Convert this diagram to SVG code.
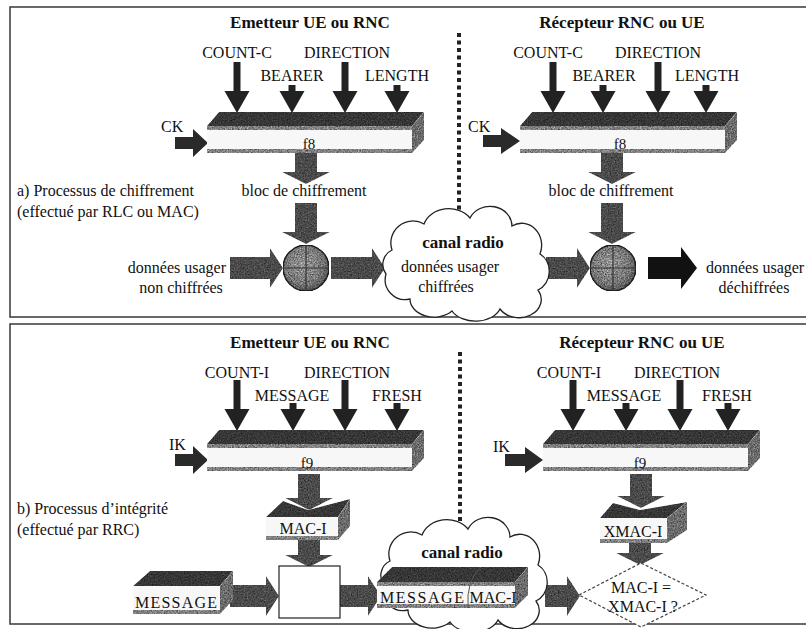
<svg xmlns="http://www.w3.org/2000/svg" width="806" height="629" viewBox="0 0 806 629" font-family="'Liberation Serif', 'DejaVu Serif', 'Times New Roman', Times, serif">
  <style>
    text { font-family: "Liberation Serif", "DejaVu Serif", "Times New Roman", Times, serif; }
    .t { font-size: 16px; fill: #111; }
    .b { font-weight: bold; font-size: 17px; }
    .m { text-anchor: middle; }
    .sm { font-size: 15px; }
    .panel { fill: none; stroke: #444; stroke-width: 1.6; }
    .div { stroke: #222; stroke-width: 4; stroke-dasharray: 4 3.5; }
    .dark { fill: #4e4e4e; filter: url(#grain); }
    .side { fill: #999; filter: url(#grain); }
    .front { fill: #f7f7f7; }
    .band { fill: #b8b8b8; filter: url(#grain); }
    .fat { fill: #6a6a6a; filter: url(#grain); }
    .thin { fill: #222; }
    .key { fill: #2a2a2a; }
    .blk { fill: #111; }
    .cloud { fill: #fff; stroke: #222; stroke-width: 1.3; }
    .globe { fill: url(#sphere); stroke: #2a2a2a; stroke-width: 1.6; filter: url(#grain); }
    .cross { stroke: #333; stroke-width: 1.2; }
  </style>
  <defs>
    <!-- scanned-paper grain for the shaded faces -->
    <filter id="grain" x="0" y="0" width="1" height="1" color-interpolation-filters="sRGB">
      <feTurbulence type="fractalNoise" baseFrequency="0.7" numOctaves="2" seed="7" result="n"/>
      <feColorMatrix in="n" type="matrix" values="0.6 0.6 0.6 0 -0.2  0.6 0.6 0.6 0 -0.2  0.6 0.6 0.6 0 -0.2  0 0 0 0 1" result="m"/>
      <feBlend in="SourceGraphic" in2="m" mode="multiply" result="mix"/>
      <feComposite in="mix" in2="SourceGraphic" operator="in"/>
    </filter>
    <radialGradient id="sphere" cx="0.45" cy="0.42" r="0.6">
      <stop offset="0" stop-color="#d6d6d6"/>
      <stop offset="0.7" stop-color="#a8a8a8"/>
      <stop offset="1" stop-color="#6e6e6e"/>
    </radialGradient>
    <!-- thin input arrows, tip at the origin -->
    <path id="aL" class="thin" d="M-3.5,-51 h7 v29 h9 L0,0 L-12.5,-22 h9 Z"/>
    <path id="aS" class="thin" d="M-3.5,-28 h7 v6 h9 L0,0 L-12.5,-22 h9 Z"/>
    <!-- 3D algorithm block (f8 / f9) -->
    <g id="bar">
      <polygon class="dark" points="0,14 12,0 217,0 205,14"/>
      <rect class="front" x="0" y="14" width="205" height="27"/>
      <rect class="band" x="0" y="14" width="205" height="4"/>
      <rect class="band" x="0" y="37" width="205" height="4"/>
      <polygon class="side" points="205,14 217,0 217,28 205,41"/>
    </g>
    <path id="cloud" class="cloud" d="M392,250 A22,22 0 0 1 424,224 A26,22 0 0 1 470,218 A22,20 0 0 1 512,226 A20,22 0 0 1 540,254 A18,20 0 0 1 538,290 A22,18 0 0 1 500,309 A26,18 0 0 1 452,311 A24,18 0 0 1 410,299 A20,20 0 0 1 386,274 A16,16 0 0 1 392,250 Z"/>
  </defs>

  <rect width="806" height="629" fill="#fff"/>

  <!-- ===== a) ciphering ===== -->
  <g id="panel-a">
    <rect class="panel" x="10" y="7" width="820" height="310"/>
    <line class="div" x1="459" y1="33" x2="459" y2="218"/>
  </g>
  <g id="caption-a">
    <text class="t" x="17" y="196">a) Processus de chiffrement</text>
    <text class="t" x="17" y="217">(effectué par RLC ou MAC)</text>
  </g>

  <!-- ===== b) integrity ===== -->
  <g id="panel-b">
    <rect class="panel" x="10" y="324" width="820" height="300"/>
    <line class="div" x1="460" y1="352" x2="460" y2="532"/>
  </g>
  <g id="caption-b">
    <text class="t" x="17" y="514">b) Processus d’intégrité</text>
    <text class="t" x="17" y="535">(effectué par RRC)</text>
  </g>

  <!-- ===== connectors ===== -->
  <g id="connectors">
    <!-- input parameters into f8 -->
    <use href="#aL" x="237" y="113"/>
    <use href="#aS" x="292" y="113"/>
    <use href="#aL" x="345" y="113"/>
    <use href="#aS" x="397" y="113"/>
    <use href="#aL" x="553" y="113"/>
    <use href="#aS" x="603" y="113"/>
    <use href="#aL" x="658" y="113"/>
    <use href="#aS" x="706" y="113"/>
    <!-- input parameters into f9 -->
    <use href="#aL" x="237" y="431"/>
    <use href="#aS" x="293" y="431"/>
    <use href="#aL" x="345" y="431"/>
    <use href="#aS" x="397" y="431"/>
    <use href="#aL" x="573" y="431"/>
    <use href="#aS" x="626" y="431"/>
    <use href="#aL" x="680" y="431"/>
    <use href="#aS" x="728" y="431"/>
    <!-- keys -->
    <path class="key" d="M175,137 H193 V129 L208,143 L193,157 V149 H175 Z"/>
    <path class="key" d="M483,135 H501 V128 L520,141 L501,154 V147 H483 Z"/>
    <path class="key" d="M175,454 H193 V446 L208,460 L193,474 V466 H175 Z"/>
    <path class="key" d="M505,454 H525 V447 L543,460 L525,473 V466 H505 Z"/>
    <!-- keystream path -->
    <path class="fat" d="M295,151 h22 v21 h13 L306,184 L282,172 h13 Z"/>
    <path class="fat" d="M295,203 h22 v29 h13 L306,244 L282,232 h13 Z"/>
    <path class="fat" d="M601,151 h22 v21 h13 L612,184 L588,172 h13 Z"/>
    <path class="fat" d="M601,203 h22 v29 h13 L612,244 L588,232 h13 Z"/>
    <!-- data path -->
    <path class="fat" d="M230,257 H270 V248 L283,268 L270,288 V279 H230 Z"/>
    <path class="fat" d="M331,257 H372 V248 L385,268 L372,288 V279 H331 Z"/>
    <path class="fat" d="M546,257 H577 V248 L590,268 L577,288 V279 H546 Z"/>
    <path class="blk" d="M648,257 H681 V247 L697,268 L681,289 V279 H648 Z"/>
    <!-- MAC path -->
    <path class="fat" d="M298,474 h22 v24 h13 L309,510 L285,498 h13 Z"/>
    <path class="fat" d="M298,540 h22 v15 h13 L309,567 L285,555 h13 Z"/>
    <path class="fat" d="M630,474 h22 v22 h13 L641,508 L617,496 h13 Z"/>
    <path class="fat" d="M629,543 h22 v10 h13 L640,565 L616,553 h13 Z"/>
    <path class="fat" d="M230,585 H266 V576 L279,596 L266,616 V607 H230 Z"/>
    <path class="fat" d="M340,585 H368 V576 L381,596 L368,616 V607 H340 Z"/>
    <path class="fat" d="M545,585 H567 V576 L580,596 L567,616 V607 H545 Z"/>
  </g>

  <!-- ===== panel a nodes ===== -->
  <g id="tx-a-title"><text class="t b m" x="310" y="28">Emetteur UE ou RNC</text></g>
  <g id="rx-a-title"><text class="t b m" x="622" y="28">Récepteur RNC ou UE</text></g>

  <g id="tx-a-inputs">
    <text class="t m" x="237" y="58">COUNT-C</text>
    <text class="t m" x="347" y="58">DIRECTION</text>
    <text class="t m" x="292" y="81">BEARER</text>
    <text class="t m" x="397" y="81">LENGTH</text>
    <text class="t" x="161" y="132">CK</text>
  </g>
  <g id="tx-f8">
    <use href="#bar" x="207" y="112"/>
    <text class="t sm m" x="309" y="149">f8</text>
  </g>
  <g id="tx-keystream"><text class="t m" x="304" y="196">bloc de chiffrement</text></g>
  <g id="tx-xor">
    <circle class="globe" cx="306" cy="268" r="23"/>
    <line class="cross" x1="283" y1="268" x2="329" y2="268"/>
    <line class="cross" x1="306" y1="245" x2="306" y2="291"/>
  </g>
  <g id="plaintext">
    <text class="t" x="226" y="273" text-anchor="end">données usager</text>
    <text class="t m" x="181" y="293">non chiffrées</text>
  </g>

  <g id="radio-a">
    <use href="#cloud"/>
    <text class="t b m" x="463" y="248">canal radio</text>
    <text class="t m" x="450" y="272">données usager</text>
    <text class="t m" x="446" y="292">chiffrées</text>
  </g>

  <g id="rx-a-inputs">
    <text class="t m" x="548" y="58">COUNT-C</text>
    <text class="t m" x="658" y="58">DIRECTION</text>
    <text class="t m" x="604" y="81">BEARER</text>
    <text class="t m" x="707" y="81">LENGTH</text>
    <text class="t" x="468" y="132">CK</text>
  </g>
  <g id="rx-f8">
    <use href="#bar" x="520" y="112"/>
    <text class="t sm m" x="620" y="149">f8</text>
  </g>
  <g id="rx-keystream"><text class="t m" x="611" y="196">bloc de chiffrement</text></g>
  <g id="rx-xor">
    <circle class="globe" cx="613" cy="268" r="23"/>
    <line class="cross" x1="590" y1="268" x2="636" y2="268"/>
    <line class="cross" x1="613" y1="245" x2="613" y2="291"/>
  </g>
  <g id="deciphered">
    <text class="t" x="706" y="273">données usager</text>
    <text class="t m" x="754" y="293">déchiffrées</text>
  </g>

  <!-- ===== panel b nodes ===== -->
  <g id="tx-b-title"><text class="t b m" x="310" y="348">Emetteur UE ou RNC</text></g>
  <g id="rx-b-title"><text class="t b m" x="642" y="348">Récepteur RNC ou UE</text></g>

  <g id="tx-b-inputs">
    <text class="t m" x="237" y="378">COUNT-I</text>
    <text class="t m" x="347" y="378">DIRECTION</text>
    <text class="t m" x="292" y="401">MESSAGE</text>
    <text class="t m" x="397" y="401">FRESH</text>
    <text class="t" x="169" y="450">IK</text>
  </g>
  <g id="tx-f9">
    <use href="#bar" x="207" y="430"/>
    <text class="t sm m" x="307" y="468">f9</text>
  </g>
  <g id="mac-i">
    <polygon class="dark" points="266,517 283,501 308,510 350,499 338,517"/>
    <rect class="front" x="266" y="517" width="72" height="23"/>
    <rect class="band" x="266" y="536" width="72" height="4"/>
    <polygon class="side" points="338,517 350,499 350,526 338,540"/>
    <text class="t m" x="303" y="534">MAC-I</text>
  </g>
  <g id="mac-compose">
    <rect x="279" y="566" width="61" height="52" fill="#fff" stroke="#222" stroke-width="1.2"/>
  </g>
  <g id="message">
    <polygon class="dark" points="133,586 150,571 233,571 220,586"/>
    <rect class="front" x="133" y="586" width="87" height="28"/>
    <rect class="band" x="133" y="610" width="87" height="4"/>
    <polygon class="side" points="220,586 233,571 233,600 220,614"/>
    <text class="t m" x="176" y="608" textLength="82">MESSAGE</text>
  </g>

  <g id="radio-b">
    <use href="#cloud" transform="translate(-2,311)"/>
    <text class="t b m" x="462" y="558">canal radio</text>
    <polygon class="dark" points="377,582 392,567 528,567 515,582"/>
    <rect class="front" x="377" y="582" width="138" height="26"/>
    <rect class="band" x="377" y="582" width="138" height="4"/>
    <rect class="band" x="377" y="604" width="138" height="4"/>
    <polygon class="side" points="515,582 528,567 528,595 515,608"/>
    <path d="M481,567 Q466,580 468,608" fill="none" stroke="#555" stroke-width="1"/>
    <text class="t m" x="422" y="603" textLength="84">MESSAGE</text>
    <text class="t m" x="493" y="603">MAC-I</text>
  </g>

  <g id="rx-b-inputs">
    <text class="t m" x="569" y="378">COUNT-I</text>
    <text class="t m" x="677" y="378">DIRECTION</text>
    <text class="t m" x="624" y="401">MESSAGE</text>
    <text class="t m" x="727" y="401">FRESH</text>
    <text class="t" x="493" y="452">IK</text>
  </g>
  <g id="rx-f9">
    <use href="#bar" x="543" y="430"/>
    <text class="t sm m" x="640" y="468">f9</text>
  </g>
  <g id="xmac-i">
    <polygon class="dark" points="600,518 613,503 640,510 687,502 667,518"/>
    <rect class="front" x="600" y="518" width="67" height="25"/>
    <rect class="band" x="600" y="539" width="67" height="4"/>
    <polygon class="side" points="667,518 687,502 687,530 667,543"/>
    <text class="t m" x="633" y="537">XMAC-I</text>
  </g>
  <g id="mac-check">
    <polygon points="579,595 641,563 706,595 641,627" fill="#fff" stroke="#444" stroke-width="1.2" stroke-dasharray="3 2"/>
    <text class="t m" x="641" y="593">MAC-I =</text>
    <text class="t m" x="643" y="612">XMAC-I ?</text>
  </g>
</svg>
